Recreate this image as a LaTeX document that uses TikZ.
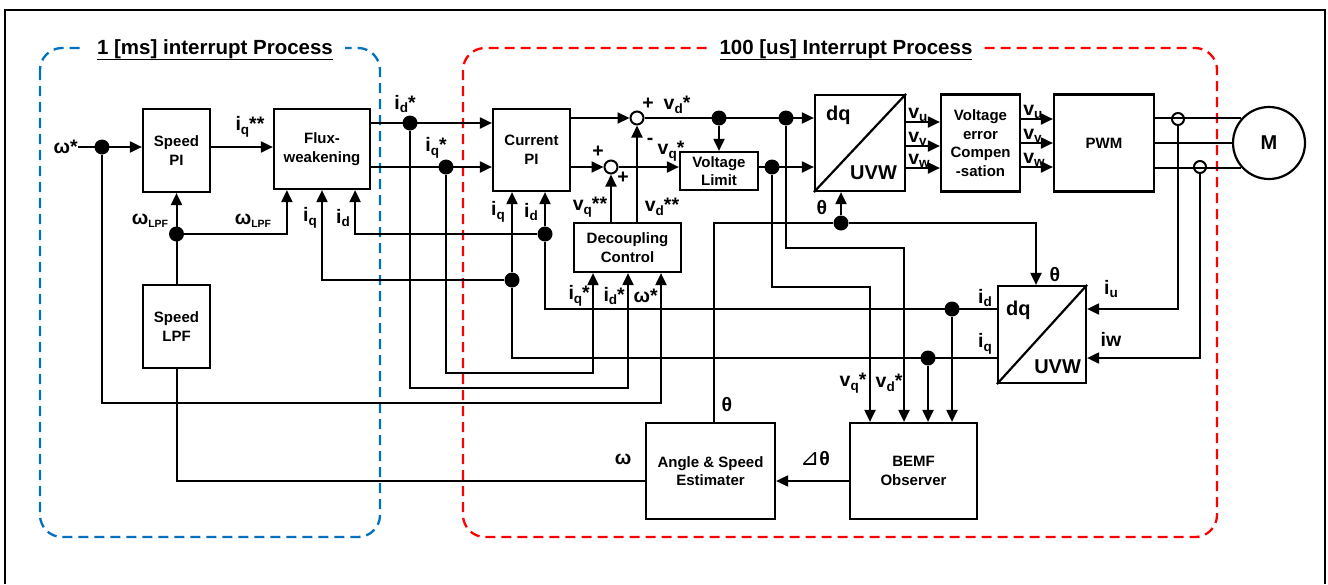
\documentclass[tikz,border=0pt]{standalone}
\usepackage{fontspec}
\setmainfont{Liberation Sans}
\newfontfamily\symfont{DejaVu Sans}
\usetikzlibrary{arrows.meta}
\definecolor{msblue}{RGB}{0,112,192}
\newcommand\lowx[1]{\raisebox{-0.35ex}{\fontsize{13.5}{13.5}\selectfont #1}}
\newcommand\lpfx{\raisebox{-0.3ex}{\fontsize{10.5}{10.5}\selectfont LPF}}

\begin{document}
\begin{tikzpicture}[x=1pt,y=-1pt,
  blk/.style={draw,line width=2.2pt,align=center,inner sep=0pt,font=\bfseries\fontsize{15}{18.5}\selectfont},
  dqt/.style={inner sep=0pt,font=\bfseries\fontsize{20}{22}\selectfont},
  wire/.style={line width=2pt},
  arr/.style={wire,-{Triangle[length=12pt,width=11pt]}},
  dot/.style={circle,fill,inner sep=0pt,minimum size=15pt},
  sumj/.style={circle,draw,line width=2pt,inner sep=0pt,minimum size=13pt},
  sens/.style={circle,draw,line width=2pt,inner sep=0pt,minimum size=12pt},
  lbl/.style={inner sep=0pt,font=\bfseries\fontsize{19.5}{21}\selectfont},
  ttl/.style={fill=white,anchor=base,inner xsep=12pt,inner ysep=2pt,font=\bfseries\fontsize{20.5}{22}\selectfont}]
\useasboundingbox (0,0) rectangle (1328,584);
\draw[line width=2pt] (5,584) -- (5,10) -- (1325,10) -- (1325,584);
\draw[msblue,line width=2.3pt,dash pattern=on 10pt off 6pt,rounded corners=22pt] (40,48) rectangle (380,537);
\draw[red,line width=2.3pt,dash pattern=on 10pt off 6pt,rounded corners=22pt] (463,48) rectangle (1217,537);
\node[ttl] (t-ms) at (215,54) {\underline{1 [ms] interrupt Process}};
\node[ttl] (t-us) at (846,54) {\underline{100 [us] Interrupt Process}};

\node[blk,minimum width=67pt,minimum height=83pt] (spi) at (176.5,150.5) {Speed\\PI};
\node[blk,minimum width=96pt,minimum height=80pt] (flux) at (322,149) {Flux-\\weakening};
\node[blk,minimum width=67pt,minimum height=83pt] (lpf) at (176.5,326.5) {Speed\\LPF};
\node[blk,minimum width=77pt,minimum height=82pt] (cpi) at (531.5,150) {Current\\PI};
\node[blk,minimum width=107pt,minimum height=49pt] (dec) at (627.5,247.5) {Decoupling\\Control};
\node[blk,minimum width=78pt,minimum height=38pt] (vlim) at (719,171) {Voltage\\Limit};
\node[blk,minimum width=90pt,minimum height=96pt] (dq1) at (860,143) {};
\node[blk,minimum width=79pt,minimum height=97pt] (vec) at (980.5,143) {Voltage\\error\\Compen\\-sation};
\node[blk,minimum width=100pt,minimum height=97pt] (pwm) at (1104,143) {PWM};
\node[blk,circle,minimum size=72pt,font=\bfseries\fontsize{20}{22}\selectfont] (mot) at (1269,143) {M};
\node[blk,minimum width=88pt,minimum height=97pt] (dq2) at (1042,334.5) {};
\node[blk,minimum width=127pt,minimum height=96pt] (bemf) at (913.5,471) {BEMF\\Observer};
\node[blk,minimum width=129pt,minimum height=96pt] (est) at (710.5,471) {Angle \& Speed\\Estimater};

\draw[line width=2.2pt] (dq1.south west) -- (dq1.north east);
\node[dqt,anchor=north west] (dq1-a) at ([xshift=12pt,yshift=-12pt]dq1.north west) {dq};
\node[dqt,anchor=base east] (dq1-b) at ([xshift=-9pt,yshift=13pt]dq1.south east) {UVW};
\draw[line width=2.2pt] (dq2.south west) -- (dq2.north east);
\node[dqt,anchor=north west] (dq2-a) at ([xshift=9pt,yshift=-16pt]dq2.north west) {dq};
\node[dqt,anchor=base east] (dq2-b) at ([xshift=-6pt,yshift=11pt]dq2.south east) {UVW};

\node[dot] (dw) at (102,147) {};
\node[dot] (dl) at (176.5,234) {};
\node[dot] (did) at (410,123) {};
\node[dot] (diq) at (446,167) {};
\node[dot] (dcd) at (545,234) {};
\node[dot] (dcq) at (512,280) {};
\node[sumj] (sj1) at (637,118) {};
\node[sumj] (sj2) at (611,167) {};
\node[dot] (dvd1) at (719,118) {};
\node[dot] (dvd2) at (786,118) {};
\node[dot] (dvq) at (772,167) {};
\node[dot] (dth) at (841,223) {};
\node[dot] (dfd) at (952,309) {};
\node[dot] (dfq) at (928,358) {};
\node[sens] (cs1) at (1178,119) {};
\node[sens] (cs2) at (1200,167) {};
\coordinate (win) at (78,147);
\coordinate (wb) at (661,403);
\coordinate (idb) at (628,388);
\coordinate (iqb) at (593,373);
\coordinate (vdb) at (904,248);
\coordinate (vqb) at (870,287);

\draw[arr] (win) -- (spi.west |- win);
\draw[arr] (dw) |- (wb) -- (wb |- dec.south);
\draw[arr] (spi.east |- win) -- (flux.west |- win);
\draw[arr] (lpf.north) -- (lpf.north |- spi.south);
\draw[arr] (dl) -| ([xshift=14pt]flux.south west);
\draw[wire] (lpf.south) |- ([yshift=-10pt]est.west);
\draw[arr] ([yshift=-10pt]bemf.west) -- ([yshift=-10pt]est.east);
\draw[arr] (flux.east |- did) -- (cpi.west |- did);
\draw[arr] (flux.east |- diq) -- (cpi.west |- diq);
\draw[arr] (did) |- (idb) -- (idb |- dec.south);
\draw[arr] (diq) |- (iqb) -- (iqb |- dec.south);
\draw[wire] (dq2.west |- dfd) -| (dcd);
\draw[arr] (dcd) -- (dcd |- cpi.south);
\draw[arr] (dcd) -| ([xshift=-16pt]flux.south east);
\draw[arr] (dfd) -- (dfd |- bemf.north);
\draw[wire] (dq2.west |- dfq) -| (dcq);
\draw[arr] (dcq) -- (dcq |- cpi.south);
\draw[arr] (dcq) -| (flux.south);
\draw[arr] (dfq) -- (dfq |- bemf.north);
\draw[arr] (cpi.east |- sj1) -- (sj1.west);
\draw[arr] (cpi.east |- sj2) -- (sj2.west);
\draw[arr] (sj1 |- dec.north) -- (sj1.south);
\draw[arr] (sj2 |- dec.north) -- (sj2.south);
\draw[arr] (sj1.east) -- (dq1.west |- sj1);
\draw[arr] (dvd1) -- (dvd1 |- vlim.north);
\draw[arr] (sj2.east) -- (vlim.west |- sj2);
\draw[arr] (vlim.east |- dvq) -- (dq1.west |- dvq);
\draw[arr] (dvd2) |- (vdb) -- (vdb |- bemf.north);
\draw[arr] (dvq) |- (vqb) -- (vqb |- bemf.north);
\draw[wire] ([xshift=3.5pt]est.north) |- (dth);
\draw[arr] (dth) -- (dth |- dq1.south);
\draw[arr] (dth) -| ([xshift=-6pt]dq2.north);
\foreach \yy/\ph in {122/u,146/v,168/w}{
  \draw[arr] (dq1.east |- 0,\yy) -- (vec.west |- 0,\yy);
  \node[lbl,anchor=south west,xshift=2pt] (l-a\ph) at (dq1.east |- 0,\yy) {v\lowx{\ph}};
}
\foreach \yy/\ph in {119/u,143/v,167/w}{
  \draw[arr] (vec.east |- 0,\yy) -- (pwm.west |- 0,\yy);
  \node[lbl,anchor=south west,xshift=2pt] (l-b\ph) at (vec.east |- 0,\yy) {v\lowx{\ph}};
}
\draw[wire] (pwm.east |- mot.138) -- (mot.138);
\draw[wire] (pwm.east |- mot.west) -- (mot.west);
\draw[wire] (pwm.east |- mot.222) -- (mot.222);
\draw[arr] (cs1.south) |- (dq2.east |- dfd);
\draw[arr] (cs2.south) |- (dq2.east |- dfq);

\node[lbl,anchor=east] (l-w) at (win) {ω*};
\node[lbl] (l-iqss) at (250,127) {i\lowx{q}**};
\node[lbl] (l-wl1) at (150,221) {ω\lpfx};
\node[lbl] (l-wl2) at (253,221) {ω\lpfx};
\node[lbl] (l-fq) at (310,218) {i\lowx{q}};
\node[lbl] (l-fd) at (343,218) {i\lowx{d}};
\node[lbl] (l-ids) at (405,104) {i\lowx{d}*};
\node[lbl] (l-iqs) at (436,148) {i\lowx{q}*};
\node[lbl] (l-cq) at (498,212) {i\lowx{q}};
\node[lbl] (l-cd) at (531,212) {i\lowx{d}};
\node[lbl] (l-vqss) at (590,207) {v\lowx{q}**};
\node[lbl] (l-vdss) at (662,207) {v\lowx{d}**};
\node[lbl,anchor=east] (l-dq) at (590,296) {i\lowx{q}*};
\node[lbl,anchor=east] (l-dd) at (625,296) {i\lowx{d}*};
\node[lbl,anchor=east] (l-dw) at (658,296) {ω*};
\node[lbl] (l-p1) at (648,104) {+};
\node[lbl] (l-m1) at (650,141) {-};
\node[lbl] (l-p2) at (598,152) {+};
\node[lbl] (l-p3) at (623,178) {+};
\node[lbl] (l-vd) at (677,105) {v\lowx{d}*};
\node[lbl] (l-vq) at (671,151) {v\lowx{q}*};
\node[lbl] (l-th1) at (822,208) {θ};
\node[lbl] (l-th2) at (1055,275) {θ};
\node[lbl] (l-od) at (985,298) {i\lowx{d}};
\node[lbl] (l-oq) at (985,344) {i\lowx{q}};
\node[lbl] (l-iu) at (1111,289) {i\lowx{u}};
\node[lbl] (l-iw) at (1111,339) {iw};
\node[lbl] (l-bq) at (853,383) {v\lowx{q}*};
\node[lbl] (l-bd) at (889,383) {v\lowx{d}*};
\node[lbl] (l-th3) at (727,405) {θ};
\node[lbl] (l-om) at (623,459) {ω};
\node[lbl] (l-dth) at (815,459) {{\symfont\mdseries\fontsize{23}{23}\selectfont ⊿}θ};
\end{tikzpicture}
\end{document}
